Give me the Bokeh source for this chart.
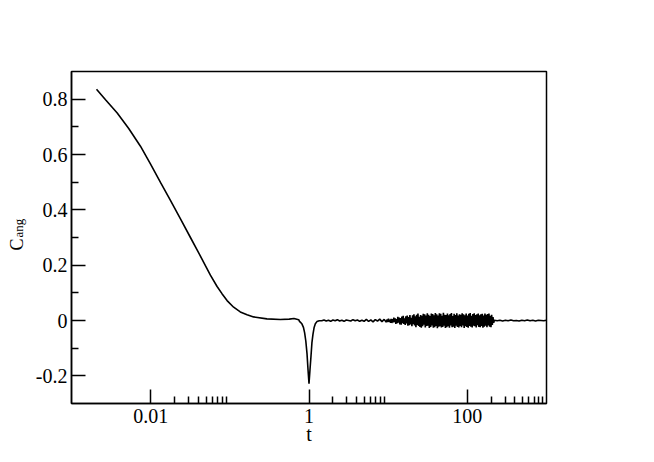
import numpy as np
from bokeh.plotting import figure
from bokeh.layouts import row
from bokeh.models import FixedTicker, CustomJSTickFormatter, Label, Range1d
from bokeh.embed import file_html
from bokeh.resources import INLINE

# ---- data ----
# smooth decay + dip around t = 1  (t, C_ang)
t_main = [0.00207, 0.00269, 0.00378, 0.00528, 0.00743, 0.00993, 0.0133, 0.0177,
          0.0237, 0.0318, 0.0425, 0.0568, 0.069, 0.0796, 0.0923, 0.1117, 0.1355,
          0.165, 0.1995, 0.294, 0.434, 0.562, 0.646, 0.741, 0.759, 0.813,
          0.851, 0.881, 0.912, 0.944, 0.973, 1.0, 1.028, 1.059, 1.089, 1.122,
          1.161, 1.202, 1.259, 1.349]
c_main = [0.836, 0.798, 0.750, 0.694, 0.630, 0.566, 0.499, 0.435,
          0.368, 0.300, 0.233, 0.164, 0.123, 0.097, 0.072, 0.048, 0.031,
          0.021, 0.013, 0.006, 0.0035, 0.005, 0.007, 0.003, -0.003, -0.012,
          -0.025, -0.045, -0.075, -0.120, -0.180, -0.228, -0.180, -0.130,
          -0.080, -0.050, -0.025, -0.012, -0.004, -0.001]

# light noise after the dip (t ~1.45 .. ~9.5)
t_noise_a = np.geomspace(1.45, 9.5, 30)
c_noise_a = [-0.001, 0.002, -0.002, 0.001, -0.003, 0.002, -0.001, 0.003, -0.002, 0.001,
             -0.003, 0.002, 0.000, -0.002, 0.003, -0.001, 0.002, -0.003, 0.001, -0.003,
             0.004, -0.003, 0.002, -0.005, 0.003, -0.002, 0.005, -0.004, 0.004, -0.006]

# oscillating band (t ~9.7 .. ~215)
t_band = np.geomspace(9.7, 215.0, 160)
c_band = [0.004, -0.006, 0.007, -0.005, 0.003, -0.008, 0.006, -0.009, 0.005, -0.007,
          0.010, -0.006, 0.008, -0.012, 0.005, -0.010, 0.013, -0.008, 0.011, -0.014,
          0.009, -0.015, 0.014, -0.010, 0.017, -0.012, 0.008, -0.016, 0.015, -0.011,
          0.018, -0.019, 0.012, -0.017, 0.020, -0.014, 0.010, -0.021, 0.019, -0.013,
          0.022, -0.018, 0.015, -0.024, 0.021, -0.016, 0.025, -0.020, 0.013, -0.023,
          0.020, -0.026, 0.017, -0.021, 0.024, -0.015, 0.022, -0.025, 0.018, -0.020,
          0.026, -0.019, 0.021, -0.027, 0.016, -0.023, 0.025, -0.018, 0.023, -0.026,
          0.019, -0.024, 0.027, -0.020, 0.022, -0.028, 0.018, -0.022, 0.026, -0.021,
          0.024, -0.025, 0.017, -0.023, 0.028, -0.019, 0.021, -0.027, 0.020, -0.024,
          0.025, -0.021, 0.019, -0.026, 0.023, -0.018, 0.027, -0.024, 0.016, -0.022,
          0.024, -0.027, 0.020, -0.019, 0.026, -0.023, 0.018, -0.025, 0.022, -0.020,
          0.021, -0.024, 0.026, -0.018, 0.022, -0.027, 0.019, -0.021, 0.025, -0.023,
          0.018, -0.026, 0.024, -0.020, 0.027, -0.022, 0.017, -0.025, 0.023, -0.019,
          0.026, -0.021, 0.020, -0.025, 0.022, -0.017, 0.025, -0.023, 0.019, -0.024,
          0.022, -0.020, 0.024, -0.026, 0.018, -0.022, 0.025, -0.019, 0.021, -0.024,
          0.023, -0.018, 0.025, -0.022, 0.017, -0.024, 0.021, -0.016, 0.012, -0.008]

# flat tail (t ~220 .. 1000)
t_tail = np.geomspace(220.0, 1000.0, 20)
c_tail = [0.001, -0.001, 0.001, -0.002, 0.001, -0.001, 0.002, -0.001, 0.000, -0.002,
          0.001, -0.001, 0.002, -0.001, 0.001, -0.002, 0.001, 0.000, -0.001, 0.001]

x_major = [0.01, 1, 100]
x_minor = [0.02, 0.03, 0.04, 0.05, 0.06, 0.07, 0.08, 0.09,
           2, 3, 4, 5, 6, 7, 8, 9,
           200, 300, 400, 500, 600, 700, 800, 900]
y_major = [-0.2, 0, 0.2, 0.4, 0.6, 0.8]
y_minor = [-0.1, 0.1, 0.3, 0.5, 0.7]

t_all = list(t_main) + list(t_noise_a) + list(t_band) + list(t_tail)
c_all = list(c_main) + list(c_noise_a) + list(c_band) + list(c_tail)

FONT = "Liberation Serif"
H = 454
LAB_W = 30
TOTAL_W = 646

p = figure(width=TOTAL_W - LAB_W, height=H, x_axis_type="log",
           x_range=Range1d(0.001, 1000), y_range=Range1d(-0.3, 0.9),
           output_backend="svg", toolbar_location=None,
           min_border_left=71 - LAB_W, min_border_right=TOTAL_W - 546,
           min_border_top=71, min_border_bottom=H - 403)

p.line(t_all, c_all, line_color="black", line_width=1.6)

p.grid.visible = False
p.background_fill_color = "white"
p.border_fill_color = "white"
p.outline_line_color = "black"
p.outline_line_width = 1.5

fmt = CustomJSTickFormatter(code="return tick.toString();")

xa = p.xaxis[0]
xa.ticker = FixedTicker(ticks=x_major, minor_ticks=x_minor)
xa.formatter = fmt
xa.axis_label = "t"
ya = p.yaxis[0]
ya.ticker = FixedTicker(ticks=y_major, minor_ticks=y_minor)
ya.formatter = fmt
ya.axis_label = None

for ax in (xa, ya):
    ax.axis_line_color = "black"
    ax.axis_line_width = 1.5
    ax.major_tick_in = 14
    ax.major_tick_out = 0
    ax.minor_tick_in = 7
    ax.minor_tick_out = 0
    ax.major_tick_line_width = 1.5
    ax.minor_tick_line_width = 1.5
    ax.major_tick_line_color = "black"
    ax.minor_tick_line_color = "black"
    ax.major_label_text_font = FONT
    ax.major_label_text_font_size = "20px"
    ax.major_label_text_color = "black"
    ax.axis_label_text_font = FONT
    ax.axis_label_text_font_size = "20px"
    ax.axis_label_text_font_style = "normal"
    ax.axis_label_text_color = "black"

xa.major_label_standoff = 5
xa.axis_label_standoff = -3
ya.major_label_standoff = 4

# narrow strip on the left that carries the rotated y-axis title C_ang
lab = figure(width=LAB_W, height=H, x_range=Range1d(0, 1), y_range=Range1d(0, 1),
             output_backend="svg", toolbar_location=None,
             x_axis_location=None, y_axis_location=None,
             min_border_left=0, min_border_right=0,
             min_border_top=0, min_border_bottom=0)
lab.grid.visible = False
lab.outline_line_color = None
lab.background_fill_color = "white"
lab.border_fill_color = "white"

lab_c = Label(x=16.5, y=153, x_units="screen", y_units="screen", text="C",
              angle=np.pi / 2, text_font=FONT, text_font_size="18px",
              text_color="black", text_baseline="alphabetic", text_align="left")
lab_sub = Label(x=18, y=166, x_units="screen", y_units="screen", text="ang",
                angle=np.pi / 2, text_font=FONT, text_font_size="13px",
                text_color="black", text_baseline="alphabetic", text_align="left")
lab.add_layout(lab_c)
lab.add_layout(lab_sub)

layout = row(lab, p)
open("out.html", "w").write(file_html(layout, INLINE))
